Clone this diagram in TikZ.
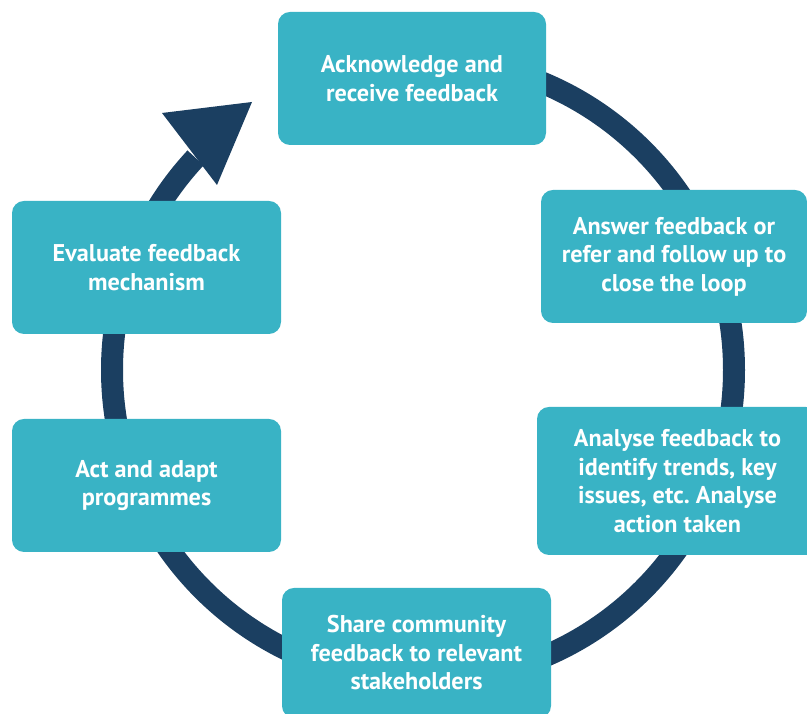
\documentclass[tikz,border=0pt]{standalone}
\usepackage{fontspec}
\setmainfont{PT Sans}
\definecolor{teal}{HTML}{39B3C5}
\definecolor{navy}{HTML}{1B3F61}
\begin{document}
\begin{tikzpicture}[x=1pt,y=1pt,
  box/.style={fill=teal, draw=none, rounded corners=12pt, inner sep=0pt, outer sep=0pt,
    align=center, text=white, font=\bfseries\fontsize{24.2}{28.5}\selectfont},
  ring/.style={draw=navy, line width=22pt, line cap=butt}]
\useasboundingbox (0,0) rectangle (807,714);
\coordinate (c) at (423,344);
% ring
\draw[ring] (423,655) arc[start angle=90, end angle=-223, radius=311] coordinate (ringend);
% arrowhead
\fill[navy] (162,601) coordinate (hl) -- (252,612) coordinate (tip) -- (217,529) coordinate (hr) -- cycle;
% boxes
\node[box, minimum width=268pt, minimum height=133pt] (ack) at (412,635.5) {Acknowledge and\\receive feedback};
\node[box, minimum width=266pt, minimum height=133pt] (ans) at (674,457.5) {Answer feedback or\\refer and follow up to\\close the loop};
\node[box, minimum width=281pt, minimum height=148pt] (ana) at (677.5,233) {Analyse feedback to\\identify trends, key\\issues, etc.\ Analyse\\action taken};
\node[box, minimum width=269pt, minimum height=130pt] (share) at (416.5,61) {Share community\\feedback to relevant\\stakeholders};
\node[box, minimum width=269pt, minimum height=133pt] (eval) at (146.5,446.5) {Evaluate feedback\\mechanism};
\node[box, minimum width=269pt, minimum height=133pt] (act) at (146.5,228.5) {Act and adapt\\programmes};
\end{tikzpicture}
\end{document}
